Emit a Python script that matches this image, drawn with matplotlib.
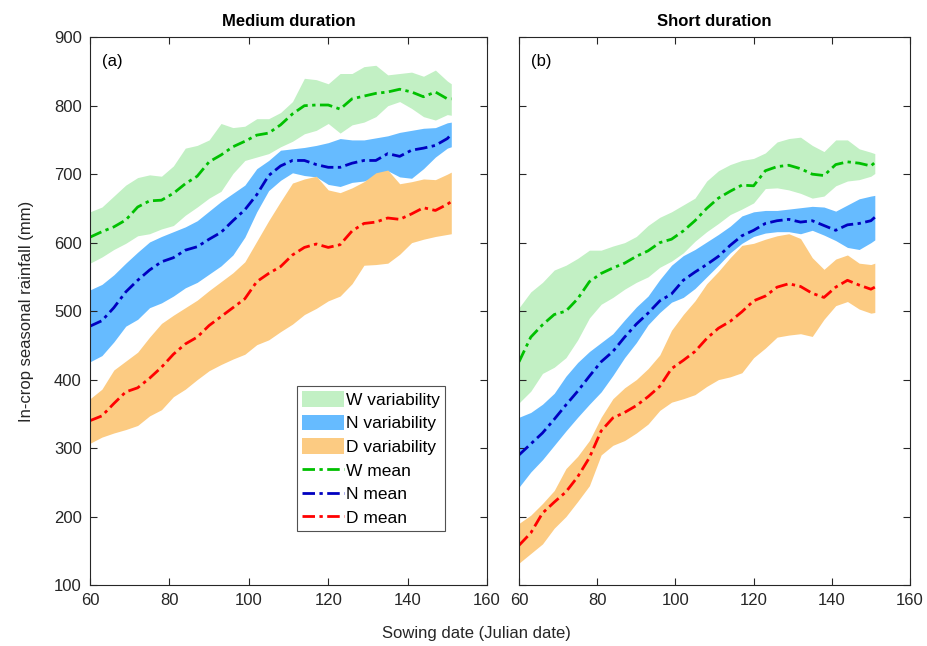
import numpy as np
import matplotlib
matplotlib.use('Agg')
import matplotlib.pyplot as plt

plt.rcParams['font.family'] = ['Liberation Sans', 'DejaVu Sans']

# sowing dates (Julian day)
days = [60, 63, 66, 69, 72, 75, 78, 81, 84, 87, 90, 93, 96, 99, 102, 105,
        108, 111, 114, 117, 120, 123, 126, 129, 132, 135, 138, 141, 144, 147, 150, 151]

# ---- (a) Medium duration ----
med_w_mean = [608, 616, 623, 633, 652, 661, 662, 672, 686, 697, 718, 728, 740, 748, 757, 760,
              772, 788, 800, 801, 801, 795, 810, 814, 818, 820, 824, 820, 813, 820, 810, 810]
med_w_hi = [645, 652, 668, 684, 695, 699, 697, 712, 738, 742, 750, 774, 768, 770, 781, 781,
            790, 806, 840, 838, 832, 847, 847, 857, 859, 845, 847, 849, 843, 852, 836, 832]
med_w_lo = [570, 579, 590, 599, 610, 613, 620, 625, 640, 652, 665, 675, 701, 720, 725, 730,
            740, 748, 759, 764, 774, 760, 772, 776, 784, 800, 806, 796, 784, 779, 787, 786]

med_n_mean = [478, 486, 505, 528, 545, 560, 572, 578, 589, 594, 605, 615, 632, 648, 670, 698,
              712, 720, 720, 714, 710, 710, 716, 720, 720, 730, 726, 735, 738, 742, 752, 758]
med_n_hi = [531, 539, 553, 570, 586, 601, 609, 616, 623, 632, 646, 660, 672, 684, 708, 720,
            735, 737, 739, 742, 746, 752, 750, 750, 753, 756, 761, 764, 767, 768, 775, 776]
med_n_lo = [426, 435, 455, 478, 488, 505, 512, 522, 534, 542, 554, 566, 582, 608, 645, 676,
            691, 702, 698, 696, 685, 682, 688, 690, 696, 705, 696, 694, 708, 725, 738, 740]

med_d_mean = [340, 347, 365, 382, 388, 402, 418, 437, 452, 462, 479, 492, 505, 518, 543, 555,
              565, 582, 593, 598, 593, 597, 617, 628, 630, 636, 634, 642, 651, 647, 656, 660]
med_d_hi = [372, 386, 414, 427, 440, 462, 482, 494, 505, 516, 530, 543, 556, 572, 602, 632,
            660, 687, 693, 697, 677, 673, 680, 689, 702, 706, 686, 689, 693, 692, 700, 703]
med_d_lo = [307, 316, 322, 327, 333, 347, 356, 375, 386, 400, 413, 422, 430, 437, 451, 458,
            470, 481, 495, 504, 515, 522, 540, 567, 568, 570, 583, 600, 605, 609, 612, 613]

# ---- (b) Short duration ----
sho_w_mean = [426, 462, 480, 495, 500, 518, 543, 555, 563, 570, 580, 588, 600, 605, 617, 632,
              650, 665, 675, 684, 683, 705, 711, 713, 708, 700, 698, 714, 718, 716, 712, 717]
sho_w_hi = [505, 528, 542, 560, 567, 577, 589, 589, 595, 600, 609, 625, 637, 645, 655, 665,
            690, 705, 714, 720, 723, 731, 747, 752, 754, 742, 733, 750, 750, 737, 732, 730]
sho_w_lo = [366, 383, 409, 418, 432, 458, 490, 510, 520, 532, 542, 550, 564, 573, 585, 602,
            616, 628, 641, 649, 658, 679, 680, 677, 672, 665, 668, 683, 690, 692, 697, 701]

sho_n_mean = [290, 306, 322, 342, 363, 383, 405, 426, 441, 462, 481, 497, 515, 525, 545, 557,
              568, 580, 596, 610, 618, 628, 632, 634, 630, 632, 625, 618, 626, 628, 632, 637]
sho_n_hi = [345, 352, 364, 380, 405, 425, 441, 454, 467, 487, 506, 522, 546, 567, 581, 590,
            601, 612, 624, 639, 645, 647, 647, 649, 651, 653, 652, 646, 655, 664, 668, 669]
sho_n_lo = [243, 265, 283, 304, 325, 345, 364, 382, 406, 432, 454, 480, 498, 513, 520, 533,
            550, 567, 585, 599, 609, 614, 616, 616, 613, 618, 611, 603, 593, 590, 600, 604]

sho_d_mean = [158, 176, 205, 221, 236, 258, 286, 325, 344, 352, 362, 375, 390, 416, 428, 441,
              460, 475, 485, 499, 515, 522, 535, 540, 536, 526, 520, 535, 545, 538, 532, 535]
sho_d_hi = [190, 202, 219, 238, 270, 288, 311, 345, 372, 388, 400, 416, 436, 472, 495, 515,
            540, 558, 578, 596, 599, 605, 610, 613, 606, 578, 561, 576, 582, 570, 568, 570]
sho_d_lo = [132, 146, 160, 183, 200, 222, 245, 290, 304, 311, 322, 335, 355, 367, 372, 378,
            390, 400, 404, 410, 432, 446, 462, 465, 467, 463, 488, 508, 514, 503, 497, 498]

band_cols = {'W': '#c2f0c4', 'N': '#66bbff', 'D': '#fccb82'}
line_cols = {'W': '#00c000', 'N': '#0000c0', 'D': '#ff0000'}
dashdot = (0, (4.5, 1.6, 1.2, 1.6))
gray = '#262626'

fig = plt.figure(figsize=(9.28, 6.46), dpi=100)
ax1 = fig.add_axes([0.097, 0.0944, 0.4278, 0.848])
ax2 = fig.add_axes([0.5593, 0.0944, 0.4213, 0.848])

panels = [
    (ax1, 'Medium duration', '(a)',
     {'W': (med_w_lo, med_w_hi, med_w_mean),
      'N': (med_n_lo, med_n_hi, med_n_mean),
      'D': (med_d_lo, med_d_hi, med_d_mean)}),
    (ax2, 'Short duration', '(b)',
     {'W': (sho_w_lo, sho_w_hi, sho_w_mean),
      'N': (sho_n_lo, sho_n_hi, sho_n_mean),
      'D': (sho_d_lo, sho_d_hi, sho_d_mean)}),
]

for ax, title, tag, series in panels:
    for k in ['W', 'N', 'D']:
        lo, hi, _ = series[k]
        ax.fill_between(days, lo, hi, color=band_cols[k], linewidth=0,
                        label=f'{k} variability')
    for k in ['W', 'N', 'D']:
        _, _, mean = series[k]
        ax.plot(days, mean, color=line_cols[k], linestyle=dashdot, linewidth=2,
                label=f'{k} mean')
    ax.set_xlim(60, 160)
    ax.set_ylim(100, 900)
    ax.set_xticks([60, 80, 100, 120, 140, 160])
    ax.set_yticks(range(100, 1000, 100))
    ax.tick_params(direction='in', top=True, right=True, length=5, width=0.8,
                   labelsize=12, colors=gray, labelcolor=gray, pad=6)
    for sp in ax.spines.values():
        sp.set_color(gray)
        sp.set_linewidth(0.8)
    ax.set_title(title, fontsize=12, fontweight='bold', pad=8)
    ax.text(0.03, 0.955, tag, transform=ax.transAxes, fontsize=12, va='center',
            color='black')

ax2.tick_params(labelleft=False)
ax1.set_ylabel('In-crop seasonal rainfall (mm)', fontsize=12, color=gray, labelpad=14)

leg = ax1.legend(loc='lower left', bbox_to_anchor=(0.522, 0.098), fontsize=12.5,
                 frameon=True, fancybox=False, handlelength=2.4, handleheight=1.0,
                 handletextpad=0.1, labelspacing=0.4, borderpad=0.3,
                 borderaxespad=0)
leg.get_frame().set_edgecolor(gray)
leg.get_frame().set_linewidth(0.8)

fig.text(0.513, 0.019, 'Sowing date (Julian date)', ha='center', va='center',
         fontsize=12, color=gray)

fig.savefig('out.png', dpi=100)
